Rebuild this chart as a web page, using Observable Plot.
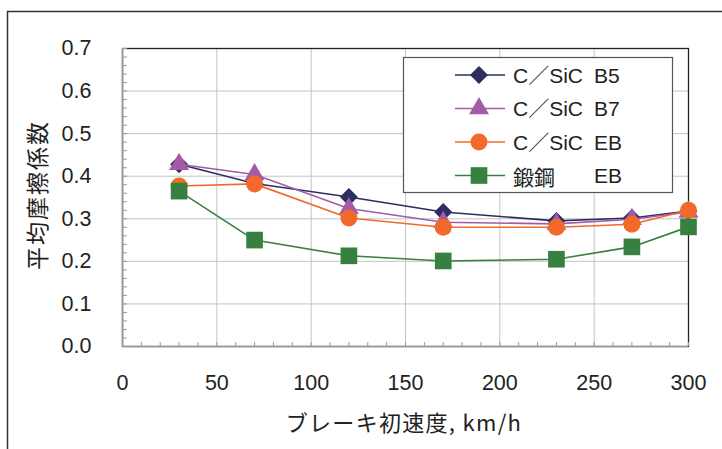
<!DOCTYPE html>
<html><head><meta charset="utf-8">
<script src="https://cdn.jsdelivr.net/npm/d3@7"></script>
<script src="https://cdn.jsdelivr.net/npm/@observablehq/plot@0.6"></script>
<style>body{margin:0;background:#fff;overflow:hidden}</style>
</head><body><div id="chart"></div>
<script>
const speeds = [30, 70, 120, 170, 230, 270, 300];
const cB5 = [0.428, 0.383, 0.351, 0.316, 0.295, 0.302, 0.318];
const cB7 = [0.428, 0.404, 0.324, 0.292, 0.288, 0.299, 0.316];
const cEB = [0.377, 0.382, 0.302, 0.280, 0.280, 0.287, 0.320];
const steelEB = [0.365, 0.250, 0.213, 0.201, 0.205, 0.234, 0.281];

const seriesValues = [cB5, cB7, cEB, steelEB];
const seriesMaterial = ["C／SiC", "C／SiC", "C／SiC", "鍛鋼"];
const seriesBrake = ["B5", "B7", "EB", "EB"];
const seriesColors = ["#2e2d62", "#a35ba8", "#f26a2b", "#38803f"];
const seriesSymbols = ["diamond2", "triangle", "circle", "square"];
const seriesR = [8.1, 7.4, 8.5, 9.4];

const xTicks = [0, 50, 100, 150, 200, 250, 300];
const yTicks = [0, 0.1, 0.2, 0.3, 0.4, 0.5, 0.6, 0.7];
const xTitle = "ブレーキ初速度, km/h";
const yTitle = "平均摩擦係数";

const numFont = "'Liberation Sans', Arial, 'Noto Sans CJK JP', sans-serif";
const jpFont = "'Noto Sans CJK JP', 'Liberation Sans', sans-serif";

const marks = [
  Plot.gridX(xTicks, {stroke: "#c4c4c4", strokeOpacity: 1}),
  Plot.gridY(yTicks, {stroke: "#c4c4c4", strokeOpacity: 1}),
  Plot.frame({stroke: "#222", strokeWidth: 1.3}),
  Plot.ruleX([0], {stroke: "#9a9a9a", strokeWidth: 1.5}),
  Plot.ruleY([0], {stroke: "#9a9a9a", strokeWidth: 1.5}),
  Plot.axisY(d3.ticks(0, 0.7, 35), {anchor: "left", tickSize: 5, dx: 5, tickFormat: () => "", stroke: "#9a9a9a", label: null}),
  Plot.axisX(d3.ticks(0, 300, 30), {anchor: "bottom", tickSize: 4, dy: -4, tickFormat: () => "", stroke: "#9a9a9a", label: null}),
  Plot.axisY(yTicks, {anchor: "left", tickSize: 0, tickPadding: 31, tickFormat: d => d.toFixed(1), fontSize: 21.5, fill: "#222", label: null}),
  Plot.axisX(xTicks, {anchor: "bottom", tickSize: 0, tickPadding: 28, fontSize: 21.5, fill: "#222", label: null})
];

seriesValues.forEach((vals, k) => {
  const rows = speeds.map((s, i) => ({speed: s, mu: vals[i]}));
  marks.push(Plot.line(rows, {x: "speed", y: "mu", stroke: seriesColors[k], strokeWidth: 1.6}));
  marks.push(Plot.dot(rows, {x: "speed", y: "mu", symbol: seriesSymbols[k], r: seriesR[k], fill: seriesColors[k], stroke: "none"}));
});

const svg = Plot.plot({
  width: 722, height: 449,
  marginLeft: 122, marginRight: 34, marginTop: 48, marginBottom: 103,
  x: {domain: [0, 300]},
  y: {domain: [0, 0.7]},
  style: {fontFamily: numFont, background: "#fff", color: "#222"},
  marks
});

const g = d3.select(svg);
// outer border
g.append("rect").attr("x", 7.5).attr("y", 11.5).attr("width", 800).attr("height", 600)
  .attr("fill", "none").attr("stroke", "#333").attr("stroke-width", 1.5);

// axis titles
g.append("text").attr("x", 404).attr("y", 421).attr("text-anchor", "middle").attr("dominant-baseline", "central")
  .attr("font-family", jpFont).attr("font-size", 22).attr("letter-spacing", 1.3).attr("fill", "#222").text(xTitle);
g.append("text").attr("transform", "translate(36,195) rotate(-90)").attr("text-anchor", "middle").attr("dominant-baseline", "central")
  .attr("font-family", jpFont).attr("font-size", 23).attr("letter-spacing", 2).attr("fill", "#222").text(yTitle);

// legend
const lg = g.append("g").attr("text-anchor", "start");
lg.append("rect").attr("x", 403.5).attr("y", 57.5).attr("width", 269).attr("height", 135)
  .attr("fill", "#fff").attr("stroke", "#555").attr("stroke-width", 1.2);
const symMap = {diamond2: d3.symbolDiamond2, triangle: d3.symbolTriangle, circle: d3.symbolCircle, square: d3.symbolSquare};
seriesMaterial.forEach((name, k) => {
  const cy = 75 + k * 33.5;
  lg.append("line").attr("x1", 455).attr("x2", 505).attr("y1", cy).attr("y2", cy)
    .attr("stroke", seriesColors[k]).attr("stroke-width", 1.6);
  lg.append("path").attr("transform", `translate(479,${cy})`)
    .attr("d", d3.symbol(symMap[seriesSymbols[k]], Math.PI * seriesR[k] * seriesR[k])())
    .attr("fill", seriesColors[k]);
  lg.append("text").attr("x", 513).attr("y", cy).attr("text-anchor", "start").attr("dominant-baseline", "central")
    .attr("font-family", k === 3 ? jpFont : numFont).attr("font-size", 21).attr("fill", "#222").text(name);
  lg.append("text").attr("x", 594).attr("y", cy).attr("text-anchor", "start").attr("dominant-baseline", "central")
    .attr("font-family", numFont).attr("font-size", 21).attr("fill", "#222").text(seriesBrake[k]);
});

document.getElementById("chart").appendChild(svg);
</script>
</body></html>
